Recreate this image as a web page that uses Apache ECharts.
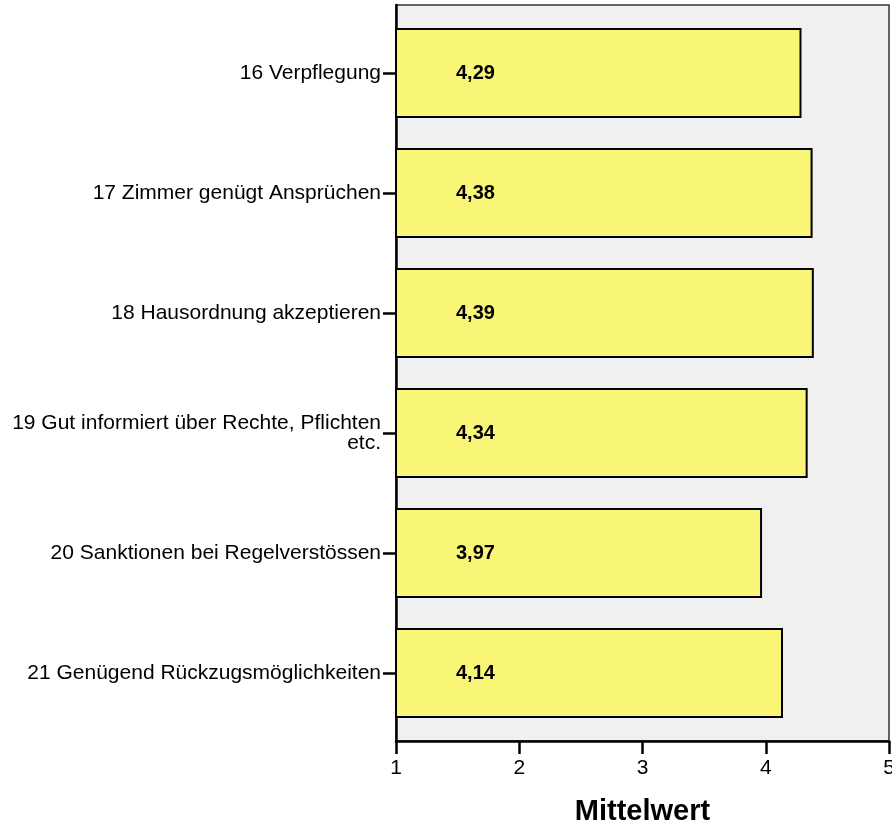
<!DOCTYPE html>
<html>
<head>
<meta charset="utf-8">
<script src="https://cdn.jsdelivr.net/npm/echarts@6/dist/echarts.min.js"></script>
<style>
  html, body { margin: 0; padding: 0; background: #fff; }
  #chart { width: 892px; height: 827px; }
</style>
</head>
<body>
<div id="chart"></div>
<script>
// Kategorien (Items) und Mittelwerte
var items = [
    '16 Verpflegung',
    '17 Zimmer genügt Ansprüchen',
    '18 Hausordnung akzeptieren',
    '19 Gut informiert über Rechte, Pflichten\netc.',
    '20 Sanktionen bei Regelverstössen',
    '21 Genügend Rückzugsmöglichkeiten'
];
var means = [4.29, 4.38, 4.39, 4.34, 3.97, 4.14];
var xTicks = [1, 2, 3, 4, 5];

var fontFam = '"Liberation Sans", Arial, sans-serif';

var chart = echarts.init(document.getElementById('chart'));

var option = {
    animation: false,
    textStyle: { fontFamily: fontFam },
    grid: [
        // Rahmen mit grauem Hintergrund
        {
            left: 396, right: 3, top: 5, height: 736,
            outerBoundsMode: 'none',
            show: true,
            backgroundColor: '#f0f0f0',
            borderColor: '#333',
            borderWidth: 1.5
        },
        // Datenbereich
        {
            left: 396, right: 3, top: 13, height: 720,
            outerBoundsMode: 'none'
        }
    ],
    xAxis: [
        { gridIndex: 0, type: 'value', show: false },
        {
            gridIndex: 1,
            type: 'value',
            min: xTicks[0],
            max: xTicks[xTicks.length - 1],
            interval: 1,
            offset: 8,
            axisLine: { show: true, lineStyle: { color: '#000', width: 2.5 } },
            axisTick: { show: true, length: 13, lineStyle: { color: '#000', width: 2.5 } },
            splitLine: { show: false },
            axisLabel: {
                color: '#000', fontSize: 21, margin: 17,
                showMaxLabel: true, showMinLabel: true,
                formatter: function (v) { return String(v); }
            },
            name: 'Mittelwert',
            nameLocation: 'middle',
            nameGap: 56,
            nameTextStyle: { color: '#000', fontSize: 29, fontWeight: 'bold' }
        }
    ],
    yAxis: [
        // linke Achsenlinie über die ganze Rahmenhöhe
        {
            gridIndex: 0, type: 'value',
            axisLine: { show: true, lineStyle: { color: '#000', width: 2.5 } },
            axisTick: { show: false },
            axisLabel: { show: false },
            splitLine: { show: false }
        },
        {
            gridIndex: 1,
            type: 'category',
            data: items,
            inverse: true,
            axisLine: { show: false },
            axisTick: { show: true, alignWithLabel: true, length: 13, lineStyle: { color: '#000', width: 2.5 } },
            axisLabel: {
                color: '#000', fontSize: 21, margin: 15,
                align: 'right', lineHeight: 20
            }
        }
    ],
    series: [{
        name: 'Mittelwert',
        type: 'bar',
        xAxisIndex: 1,
        yAxisIndex: 1,
        data: means,
        barWidth: 90,
        itemStyle: {
            color: '#f9f677',
            borderColor: '#000',
            borderWidth: 2
        },
        label: {
            show: true,
            position: [61, '50%'],
            align: 'left',
            verticalAlign: 'middle',
            color: '#000',
            fontSize: 20,
            fontWeight: 'bold',
            formatter: function (p) { return p.value.toFixed(2).replace('.', ','); }
        }
    }]
};

chart.setOption(option);
</script>
</body>
</html>
